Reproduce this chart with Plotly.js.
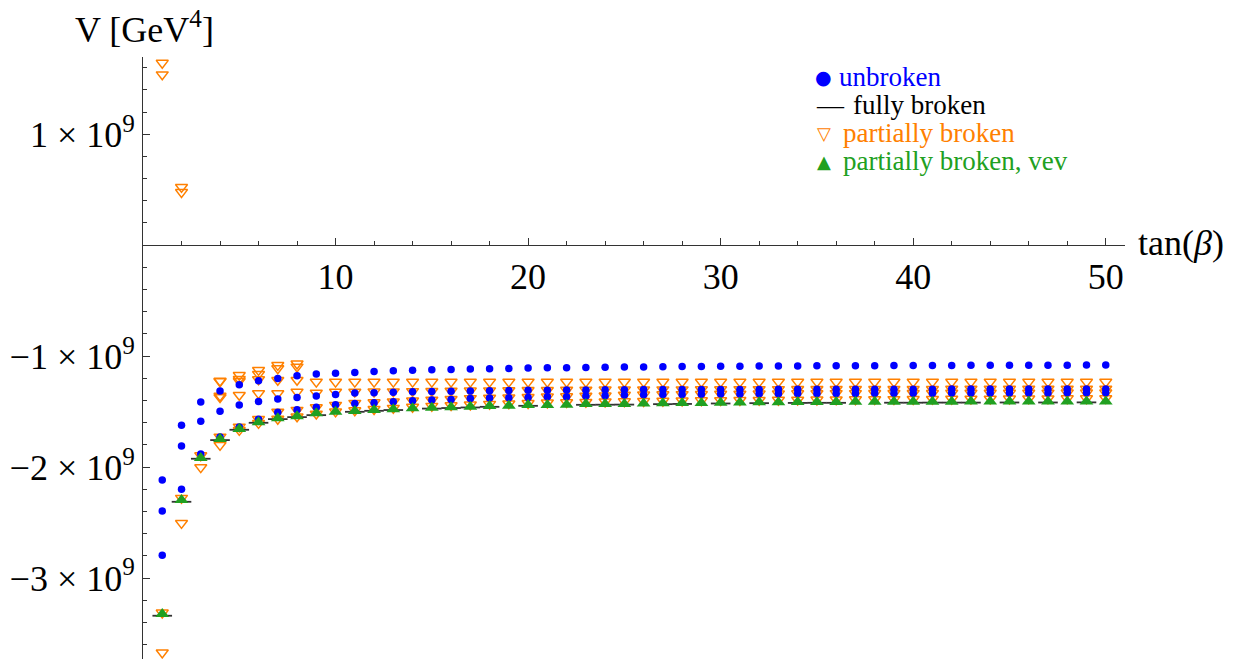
<!DOCTYPE html>
<html>
<head>
<meta charset="utf-8">
<script src="https://cdn.plot.ly/plotly-3.0.1.min.js"></script>
<style>html,body{margin:0;padding:0;background:#fff;}#chart{width:1234px;height:659px;}</style>
</head>
<body>
<div id="chart"></div>
<script>
// tan(beta) values
const tanBeta = [];
for (let i = 1; i <= 50; i++) tanBeta.push(i);

// Values in units of 1e9 GeV^4
const unbrokenA = [-2.117,-1.624,-1.414,-1.315,-1.257,-1.223,-1.201,-1.177,-1.162,-1.155,-1.147,-1.139,-1.133,-1.128,-1.124,-1.120,-1.117,-1.114,-1.111,-1.108,-1.106,-1.104,-1.102,-1.100,-1.098,-1.097,-1.096,-1.094,-1.093,-1.092,-1.091,-1.090,-1.089,-1.088,-1.087,-1.087,-1.086,-1.086,-1.085,-1.085,-1.084,-1.084,-1.083,-1.083,-1.083,-1.082,-1.082,-1.082,-1.081,-1.081];
const unbrokenB = [-2.396,-1.811,-1.588,-1.498,-1.441,-1.408,-1.387,-1.372,-1.360,-1.345,-1.333,-1.330,-1.326,-1.322,-1.319,-1.317,-1.314,-1.312,-1.310,-1.308,-1.307,-1.306,-1.305,-1.304,-1.303,-1.302,-1.302,-1.301,-1.301,-1.300,-1.300,-1.300,-1.299,-1.299,-1.299,-1.299,-1.298,-1.298,-1.298,-1.298,-1.298,-1.297,-1.297,-1.297,-1.297,-1.297,-1.297,-1.297,-1.296,-1.296];
const unbrokenC = [-2.795,-2.201,-1.883,-1.730,-1.640,-1.568,-1.505,-1.484,-1.460,-1.439,-1.426,-1.421,-1.412,-1.403,-1.396,-1.390,-1.381,-1.378,-1.376,-1.372,-1.367,-1.366,-1.360,-1.358,-1.351,-1.349,-1.347,-1.345,-1.344,-1.342,-1.341,-1.340,-1.339,-1.338,-1.337,-1.336,-1.336,-1.335,-1.335,-1.334,-1.334,-1.333,-1.333,-1.333,-1.332,-1.332,-1.332,-1.331,-1.331,-1.331];

const fullyBroken = [-3.340,-2.313,-1.925,-1.757,-1.664,-1.601,-1.568,-1.550,-1.532,null,-1.502,-1.493,-1.486,null,-1.473,-1.468,-1.463,-1.457,null,-1.448,null,null,-1.439,-1.438,-1.437,null,-1.433,-1.431,null,-1.427,null,-1.424,null,-1.422,-1.421,-1.421,null,null,-1.420,-1.420,-1.419,-1.419,-1.419,null,-1.418,null,-1.418,null,-1.417,null];

const partialA = [1.642,0.523,null,null,null,null,null,null,null,null,null,null,null,null,null,null,null,null,null,null,null,null,null,null,null,null,null,null,null,null,null,null,null,null,null,null,null,null,null,null,null,null,null,null,null,null,null,null,null,null];
const partialB = [1.538,0.477,null,-1.372,null,null,null,null,null,null,null,null,null,null,null,null,null,null,null,null,null,null,null,null,null,null,null,null,null,null,null,null,null,null,null,null,null,null,null,null,null,null,null,null,null,null,null,null,null,null];
const partialC = [null,null,null,-1.223,-1.171,-1.126,-1.081,-1.068,null,null,null,null,null,null,null,null,null,null,null,null,null,null,null,null,null,null,null,null,null,null,null,null,null,null,null,null,null,null,null,null,null,null,null,null,null,null,null,null,null,null];
const partialD = [null,null,null,null,-1.207,-1.162,-1.111,-1.096,null,null,null,null,null,null,null,null,null,null,null,null,null,null,null,null,null,null,null,null,null,null,null,null,null,null,null,null,null,null,null,null,null,null,null,null,null,null,null,null,null,null];
const partialE = [null,null,null,-1.228,-1.225,-1.210,-1.216,-1.216,-1.232,-1.232,-1.232,-1.232,-1.232,-1.232,-1.232,-1.232,-1.232,-1.232,-1.232,-1.232,-1.232,-1.232,-1.232,-1.232,-1.232,-1.232,-1.232,-1.232,-1.232,-1.232,-1.232,-1.232,-1.232,-1.232,-1.232,-1.232,-1.232,-1.232,-1.232,-1.232,-1.232,-1.232,-1.232,-1.232,-1.232,-1.232,-1.232,-1.232,-1.232,-1.232];
const partialF = [null,null,null,-1.358,-1.351,-1.336,-1.336,-1.322,-1.331,-1.322,-1.322,-1.321,-1.319,-1.317,-1.315,-1.314,-1.312,-1.310,-1.309,-1.307,-1.306,-1.305,-1.304,-1.303,-1.302,-1.302,-1.301,-1.301,-1.300,-1.300,-1.299,-1.299,-1.299,-1.298,-1.298,-1.298,-1.298,-1.297,-1.297,-1.297,-1.297,-1.296,-1.296,-1.296,-1.296,-1.296,-1.296,-1.295,-1.295,-1.295];
const partialG = [-3.313,-2.279,-1.895,-1.727,-1.637,-1.568,-1.502,-1.486,-1.462,-1.441,-1.423,-1.418,-1.410,-1.401,-1.394,-1.388,-1.380,-1.377,-1.374,-1.370,-1.366,-1.364,-1.359,-1.357,-1.350,-1.348,-1.346,-1.344,-1.343,-1.341,-1.340,-1.339,-1.338,-1.337,-1.336,-1.335,-1.335,-1.334,-1.334,-1.333,-1.333,-1.332,-1.332,-1.332,-1.331,-1.331,-1.331,-1.330,-1.330,-1.330];
const partialH = [-3.673,-2.505,-2.003,-1.802,-1.667,-1.604,-1.566,-1.545,-1.520,-1.500,-1.490,-1.478,-1.468,-1.458,-1.450,-1.444,-1.438,-1.432,-1.428,-1.424,-1.420,-1.417,-1.414,-1.411,-1.409,-1.406,-1.404,-1.402,-1.400,-1.399,-1.397,-1.396,-1.395,-1.394,-1.393,-1.392,-1.391,-1.390,-1.389,-1.388,-1.387,-1.386,-1.385,-1.385,-1.384,-1.383,-1.383,-1.382,-1.382,-1.381];

const partialVev = [-3.324,-2.297,-1.919,-1.748,-1.658,-1.595,-1.561,-1.541,-1.516,-1.502,-1.495,-1.486,-1.480,-1.471,-1.466,-1.462,-1.457,-1.450,-1.448,-1.441,-1.440,-1.438,-1.432,-1.432,-1.432,-1.428,-1.425,-1.423,-1.422,-1.420,-1.418,-1.416,-1.415,-1.414,-1.413,-1.413,-1.412,-1.412,-1.412,-1.411,-1.411,-1.411,-1.410,-1.410,-1.410,-1.410,-1.410,-1.410,-1.409,-1.409];

const yTickVals = [1, -1, -2, -3];
const yTickText = ['1 × 10<sup>9</sup>', '−1 × 10<sup>9</sup>', '−2 × 10<sup>9</sup>', '−3 × 10<sup>9</sup>'];
const xTickVals = [10, 20, 30, 40, 50];
const xTickText = ['10', '20', '30', '40', '50'];

const legendSymbols = ['●', '—', '▽', '▲'];
const legendNames = ['unbroken', 'fully broken', 'partially broken', 'partially broken, vev'];

const BLUE = '#0000ff', ORANGE = '#ff8000', GREEN = '#21a021', BLACK = '#333333';
const FONT = 'Liberation Serif, Times New Roman, serif';

const traces = [];
[partialA, partialB, partialC, partialD, partialE, partialF, partialG, partialH].forEach(arr => {
  traces.push({x: tanBeta, y: arr, type: 'scatter', mode: 'markers', showlegend: false,
    marker: {symbol: 'triangle-down-open', size: 10.5, color: ORANGE, line: {width: 1.5, color: ORANGE}}});
});
[unbrokenA, unbrokenB, unbrokenC].forEach(arr => {
  traces.push({x: tanBeta, y: arr, type: 'scatter', mode: 'markers', showlegend: false,
    marker: {symbol: 'circle', size: 7.5, color: BLUE, line: {width: 0}}});
});
traces.push({x: tanBeta, y: fullyBroken, type: 'scatter', mode: 'markers', showlegend: false,
  marker: {symbol: 'line-ew', size: 14, color: BLACK, line: {width: 1.8, color: BLACK}}});
traces.push({x: tanBeta, y: partialVev, type: 'scatter', mode: 'markers', showlegend: false,
  marker: {symbol: 'triangle-up', size: 12, color: GREEN, line: {width: 0}}});

const yRange = [-3.730, 1.696];
const xRange = [0, 51];
const W = 1234, H = 659;
const M = {l: 143, r: 109, t: 57, b: 0};
const pw = W - M.l - M.r, ph = H - M.t - M.b;
const px = X => (X - M.l) / pw;
const py = Y => (H - M.b - Y) / ph;

const legendColors = [BLUE, '#000000', ORANGE, GREEN];
const legendSymFont = ['DejaVu Sans', FONT, 'DejaVu Sans', 'DejaVu Sans'];
const legendSymSize = [19, 27, 18, 18];
const legendSymX = [823.5, 830, 824, 824];
const legendTextX = [837, 851, 841, 841];
const legendY = [77, 105, 133, 161];
const annotations = [];
legendNames.forEach((t, i) => {
  annotations.push({
    text: legendSymbols[i], xref: 'paper', yref: 'paper', x: px(legendSymX[i]), y: py(legendY[i]),
    xanchor: 'center', yanchor: 'middle', showarrow: false,
    font: {family: legendSymFont[i], size: legendSymSize[i], color: legendColors[i]}
  });
  annotations.push({
    text: t, xref: 'paper', yref: 'paper', x: px(legendTextX[i]), y: py(legendY[i]),
    xanchor: 'left', yanchor: 'middle', showarrow: false,
    font: {family: FONT, size: 27, color: legendColors[i]}
  });
});
annotations.push({text: 'V [GeV<sup>4</sup>]', xref: 'paper', yref: 'paper', x: px(144), y: py(27),
  xanchor: 'center', yanchor: 'middle', showarrow: false, font: {family: FONT, size: 36, color: '#000'}});
annotations.push({text: 'tan(<i>β</i>)', xref: 'paper', yref: 'paper', x: px(1136), y: py(243),
  xanchor: 'left', yanchor: 'middle', showarrow: false, font: {family: FONT, size: 36, color: '#000'}});

const layout = {
  width: W, height: H, margin: M,
  paper_bgcolor: '#fff', plot_bgcolor: '#fff',
  showlegend: false,
  font: {family: FONT, size: 36, color: '#000'},
  xaxis: {
    range: xRange, anchor: 'free', position: (0 - yRange[0]) / (yRange[1] - yRange[0]),
    showgrid: false, zeroline: false, showline: true, linecolor: BLACK, linewidth: 1,
    tickmode: 'array', tickvals: xTickVals, ticktext: xTickText,
    ticks: 'inside', ticklen: 7, tickwidth: 1, tickcolor: BLACK,
    minor: {tickmode: 'linear', tick0: 0, dtick: 2, ticks: 'inside', ticklen: 4, tickwidth: 1, tickcolor: BLACK},
    tickfont: {family: FONT, size: 36, color: '#000'}
  },
  yaxis: {
    range: yRange, showgrid: false, zeroline: false, showline: true, linecolor: BLACK, linewidth: 1,
    tickmode: 'array', tickvals: yTickVals, ticktext: yTickText,
    ticks: 'inside', ticklen: 7, tickwidth: 1, tickcolor: BLACK,
    minor: {tickmode: 'linear', tick0: 0, dtick: 0.2, ticks: 'inside', ticklen: 4, tickwidth: 1, tickcolor: BLACK},
    tickfont: {family: FONT, size: 36, color: '#000'}
  },
  annotations: annotations
};

Plotly.newPlot('chart', traces, layout, {staticPlot: true, displayModeBar: false});
</script>
</body>
</html>
